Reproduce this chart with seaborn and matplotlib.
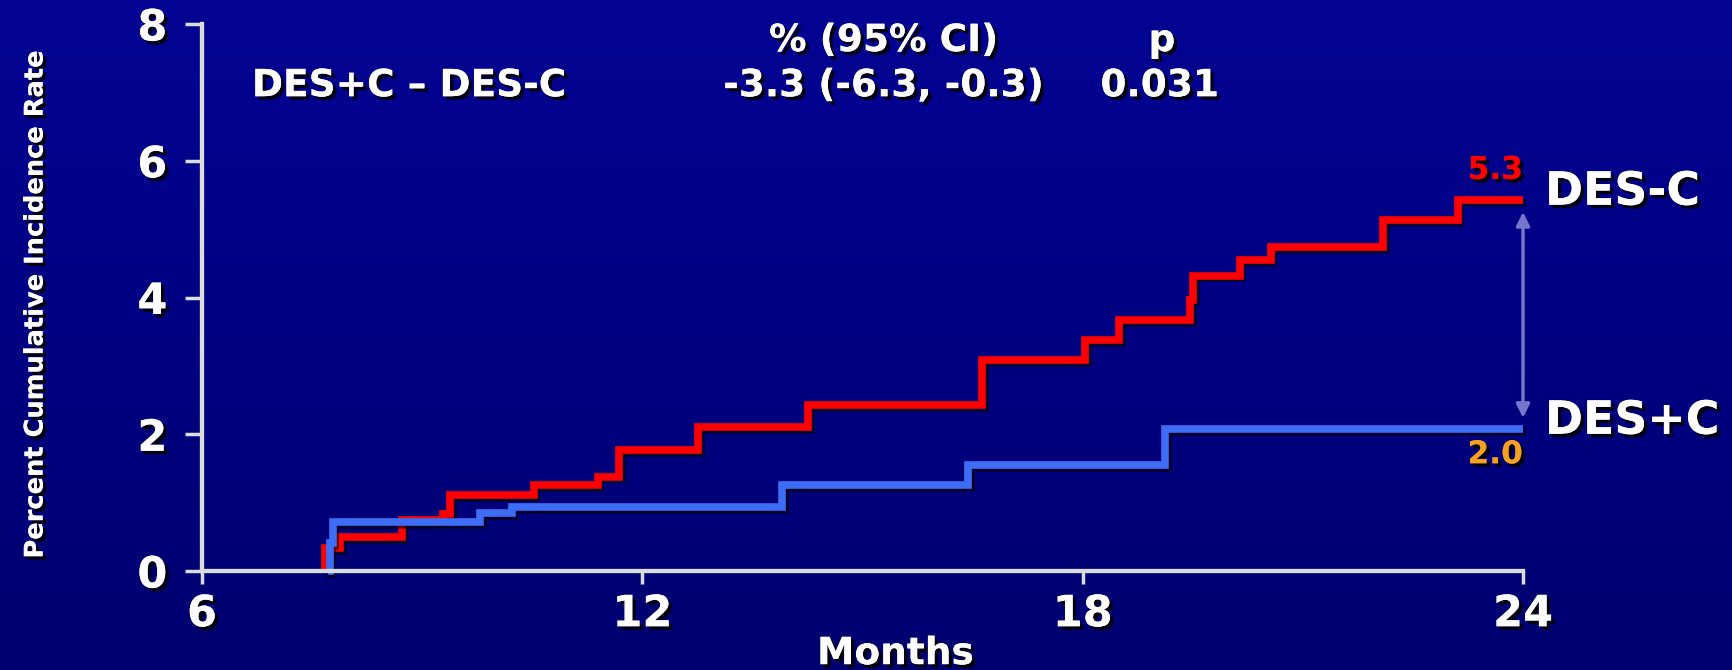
import numpy as np
import pandas as pd
import matplotlib
matplotlib.use("Agg")
import matplotlib.pyplot as plt
import matplotlib.patheffects as pe
from matplotlib import font_manager
from matplotlib.colors import LinearSegmentedColormap
import seaborn as sns

# 曲线数据
months_des_minus_c = [7.67, 7.68, 7.88, 8.72, 9.29, 9.38, 10.52, 11.39, 11.68, 12.76, 14.26,
                      16.63, 18.03, 18.50, 19.46, 19.50, 20.14, 20.56, 22.09, 23.11, 24.0]
rate_des_minus_c = [0.0, 0.33, 0.50, 0.74, 0.83, 1.11, 1.26, 1.38, 1.77, 2.10, 2.43,
                    3.08, 3.38, 3.67, 3.97, 4.32, 4.55, 4.74, 5.13, 5.43, 5.43]
months_des_plus_c = [7.72, 7.74, 7.78, 9.79, 10.22, 13.90, 16.44, 19.12, 24.0]
rate_des_plus_c = [0.0, 0.41, 0.72, 0.85, 0.94, 1.26, 1.55, 2.08, 2.08]

group_names = ["DES-C", "DES+C"]
end_labels = ["5.3", "2.0"]
x_ticks = [6, 12, 18, 24]
y_ticks = [0, 2, 4, 6, 8]

header_cols = ["% (95% CI)", "p"]
header_row = ["DES+C \u2013 DES-C", "-3.3 (-6.3, -0.3)", "0.031"]

RED = "#ff0000"
BLUE = "#3d6df5"
ORANGE = "#f5a020"
AXIS_COLOR = "#dcdcdc"

shadow = [pe.withSimplePatchShadow(offset=(2.5, -2.5), shadow_rgbFace="black", alpha=0.85), pe.Normal()]

# y轴标题用窄字体 (没有的话就缩小字号)
installed = {f.name for f in font_manager.fontManager.ttflist}
if "Liberation Sans Narrow" in installed:
    ylabel_family, ylabel_size = "Liberation Sans Narrow", 26.5
elif "DejaVu Sans Condensed" in installed:
    ylabel_family, ylabel_size = "DejaVu Sans Condensed", 20.5
else:
    ylabel_family, ylabel_size = "DejaVu Sans", 18.5

df = pd.DataFrame({
    "month": months_des_minus_c + months_des_plus_c,
    "rate": rate_des_minus_c + rate_des_plus_c,
    "group": [group_names[0]] * len(months_des_minus_c) + [group_names[1]] * len(months_des_plus_c),
})

fig = plt.figure(figsize=(17.33, 6.70), dpi=100)

# 背景渐变
bg = fig.add_axes([0, 0, 1, 1], zorder=-10)
grad = np.linspace(0, 1, 256).reshape(-1, 1)
bg_cmap = LinearSegmentedColormap.from_list("bg", ["#000070", "#000082", "#040494"])
bg.imshow(grad, aspect="auto", extent=[0, 1, 0, 1], origin="lower", cmap=bg_cmap)
bg.axis("off")

ax = fig.add_axes([202 / 1733, 99 / 670, 1321 / 1733, 547 / 670])
ax.patch.set_alpha(0)

sns.lineplot(data=df, x="month", y="rate", hue="group", hue_order=group_names,
             palette={group_names[0]: RED, group_names[1]: BLUE},
             estimator=None, drawstyle="steps-post", linewidth=5.5,
             legend=False, ax=ax)
for line in ax.lines:
    line.set_clip_on(False)
    line.set_solid_joinstyle("miter")
    line.set_solid_capstyle("butt")
    line.set_path_effects([pe.SimpleLineShadow(offset=(2, -2), shadow_color="black", alpha=0.6), pe.Normal()])

ax.set_xlim(6, 24)
ax.set_ylim(0, 8)
ax.set_xticks(x_ticks)
ax.set_yticks(y_ticks)

for side in ["top", "right"]:
    ax.spines[side].set_visible(False)
for side in ["left", "bottom"]:
    ax.spines[side].set_color(AXIS_COLOR)
    ax.spines[side].set_linewidth(3)
    ax.spines[side].set_path_effects([pe.withSimplePatchShadow(offset=(2, -2), shadow_rgbFace="black", alpha=0.7), pe.Normal()])

ax.tick_params(axis="both", colors=AXIS_COLOR, width=2.5, direction="out", labelcolor="white", labelsize=31)
ax.tick_params(axis="x", length=9, pad=7)
ax.tick_params(axis="y", length=12, pad=13)
for lbl in ax.get_xticklabels() + ax.get_yticklabels():
    lbl.set_fontweight("bold")
    lbl.set_path_effects(shadow)

ax.set_xlabel("Months", fontsize=27, fontweight="bold", color="white", va="center", path_effects=shadow)
ax.xaxis.set_label_coords(0.525, -0.152)
ax.set_ylabel("Percent Cumulative Incidence Rate", fontsize=ylabel_size, fontweight="bold", color="white",
              family=ylabel_family, va="center", ha="center", path_effects=shadow)
ax.yaxis.set_label_coords(-0.126, 0.488)

# 表头
ax.text(15.29, 7.75, header_cols[0], fontsize=27, fontweight="bold", color="white",
        ha="center", va="center", path_effects=shadow)
ax.text(19.08, 7.75, header_cols[1], fontsize=27, fontweight="bold", color="white",
        ha="center", va="center", path_effects=shadow)
ax.text(6.68, 7.09, header_row[0], fontsize=27, fontweight="bold", color="white",
        ha="left", va="center", path_effects=shadow)
ax.text(15.29, 7.09, header_row[1], fontsize=27, fontweight="bold", color="white",
        ha="center", va="center", path_effects=shadow)
ax.text(19.05, 7.09, header_row[2], fontsize=27, fontweight="bold", color="white",
        ha="center", va="center", path_effects=shadow)

# 右侧标签
ax.text(24.30, 5.54, group_names[0], fontsize=33, fontweight="bold", color="white",
        ha="left", va="center", path_effects=shadow, clip_on=False)
ax.text(24.30, 2.19, group_names[1], fontsize=33, fontweight="bold", color="white",
        ha="left", va="center", path_effects=shadow, clip_on=False)
ax.text(24.0, 5.86, end_labels[0], fontsize=22.5, fontweight="bold", color=RED,
        ha="right", va="center", path_effects=shadow)
ax.text(24.0, 1.70, end_labels[1], fontsize=22.5, fontweight="bold", color=ORANGE,
        ha="right", va="center", path_effects=shadow)

# 差值箭头
ax.annotate("", xy=(24.0, 5.25), xytext=(24.0, 2.24),
            arrowprops=dict(arrowstyle="<|-|>", color="#7575cc", lw=2.5, mutation_scale=20,
                            shrinkA=0, shrinkB=0),
            annotation_clip=False)

fig.savefig("out.png", dpi=100)
plt.close(fig)
